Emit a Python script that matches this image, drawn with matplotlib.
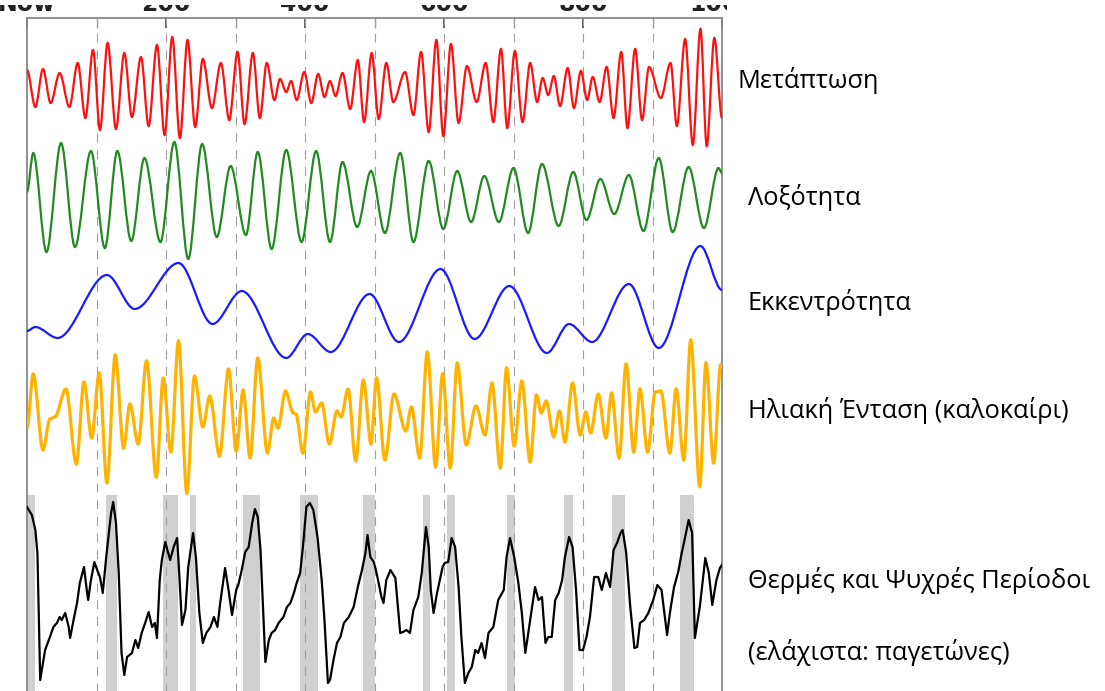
import numpy as np
import matplotlib
matplotlib.use("Agg")
import matplotlib.pyplot as plt
from matplotlib.path import Path
from matplotlib.patches import PathPatch, Rectangle

# ----------------------------
# Data (time in kyr ago, values in relative units)
# ----------------------------
# precession: turning points
prec_t = [0, 12, 23, 34, 47, 61, 73, 84, 95, 105, 116, 128, 140, 151, 164, 175,
          187, 198, 209, 220, 231, 242, 253, 266, 279, 291, 303, 313, 325, 335,
          345, 356, 364, 373, 380, 388, 399, 409, 419, 428, 436, 444, 454, 465,
          476, 485, 496, 506, 517, 527, 544, 556, 567, 578, 589, 599, 610, 621,
          633, 647, 660, 671, 682, 691, 702, 713, 724, 734, 742, 750, 758, 767,
          778, 787, 797, 806, 814, 824, 834, 844, 855, 864, 875, 885, 895, 912,
          926, 935, 947, 958, 969, 978, 989, 1000]
prec_v = [17, -20, 18, -16, 14, -20, 24, -31, 37, -43, 44, -42, 34, -30, 30, -39,
          42, -48, 50, -51, 47, -40, 28, -21, 24, -33, 35, -37, 34, -31,
          24, -13, 8, -5, 6, -13, 15, -16, 13, -10, 6, -9, 14, -22,
          27, -35, 34, -32, 24, -15, 15, -28, 35, -45, 47, -49, 43, -36,
          21, -15, 24, -35, 38, -41, 36, -35, 24, -15, 9, -8, 11, -19,
          19, -21, 16, -13, 10, -15, 20, -31, 35, -41, 38, -33, 20, -11,
          24, -39, 48, -58, 58, -59, 49, -31]

# obliquity
obl_t = [0, 9, 28, 49, 69, 92, 112, 130, 150, 169, 192, 212, 232, 252, 273, 293,
         315, 332, 352, 373, 395, 416, 436, 454, 475, 495, 515, 537, 556, 578,
         599, 619, 639, 658, 679, 700, 721, 741, 765, 786, 805, 825, 845, 866,
         887, 909, 929, 952, 974, 995, 1000]
obl_v = [8, 47, -52, 57, -47, 49, -48, 49, -41, 42, -42, 58, -59, 56, -37, 34,
         -35, 48, -49, 50, -42, 49, -42, 38, -27, 29, -33, 47, -42, 39,
         -29, 29, -22, 24, -22, 32, -33, 36, -26, 28, -20, 21, -14, 25,
         -31, 42, -32, 33, -28, 32, 27]

# eccentricity
ecc_t = [0, 12, 44, 115, 155, 218, 267, 309, 373, 404, 437, 493, 535, 595, 644,
         694, 748, 780, 813, 866, 909, 969, 1000]
ecc_v = [-31, -27, -38, 25, -9, 37, -24, 9, -58, -34, -52, 6, -42, 31, -39,
         14, -53, -24, -42, 16, -48, 54, 10]

# summer insolation
ins_t = [0, 9, 23, 33, 40, 56, 71, 82, 93, 104, 115, 127, 139, 148, 160, 172,
         186, 196, 207, 218, 230, 241, 253, 263, 277, 290, 301, 311, 321, 332,
         346, 355, 361, 372, 383, 387, 397, 408, 415, 424, 435, 446, 452, 462,
         473, 484, 495, 503, 515, 528, 545, 553, 565, 576, 588, 598, 609, 619,
         632, 646, 659, 669, 681, 690, 701, 712, 724, 733, 740, 747, 758, 766,
         774, 785, 796, 804, 811, 822, 833, 841, 852, 862, 873, 882, 893, 904,
         912, 925, 934, 945, 955, 968, 977, 988, 998, 1000]
ins_v = [-13, 41, -35, -4, -2, 26, -49, 33, -23, 42, -68, 60, -33, 11, -29, 54,
         -62, 37, -37, 74, -78, 39, -12, 19, -41, 46, -36, 25, -43, 57,
         -38, -3, -13, 24, 2, 1, -38, 23, 3, 12, -29, 4, -2, 26,
         -46, 35, -29, 37, -45, 21, -16, 8, -43, 63, -52, 41, -53, 52,
         -30, 9, -20, 32, -53, 47, -31, 34, -47, 20, 2, 14, -22, 4,
         -27, 32, -20, 3, -18, 21, -23, 22, -43, 51, -37, 26, -37, 23,
         24, -38, 26, -45, 75, -71, 52, -48, 50, 48]

# temperature record (warm and cold periods)
temp_t = [0, 7, 12, 15, 19, 26, 33, 38, 43, 47, 50, 55, 60, 62, 67, 72, 76, 82,
          86, 88, 92, 97, 101, 105, 109, 114, 121, 124, 128, 132, 136, 140, 144,
          151, 156, 160, 165, 170, 175, 180, 184, 187, 191, 194, 199, 202, 206,
          211, 216, 219, 223, 228, 232, 239, 243, 248, 253, 258, 264, 269, 274,
          278, 285, 290, 295, 301, 304, 309, 314, 319, 324, 328, 332, 336, 339,
          343, 348, 352, 357, 362, 369, 374, 379, 384, 388, 393, 397, 402, 407,
          412, 418, 424, 428, 433, 436, 441, 446, 451, 456, 463, 470, 476, 482,
          487, 490, 494, 499, 503, 510, 513, 517, 523, 530, 537, 541, 546, 551,
          556, 563, 568, 574, 578, 581, 585, 590, 594, 598, 601, 606, 611, 616,
          621, 625, 630, 635, 640, 645, 649, 654, 659, 664, 671, 678, 686, 690,
          695, 701, 707, 712, 717, 724, 731, 736, 741, 746, 750, 755, 760, 765,
          770, 774, 780, 785, 790, 795, 800, 805, 810, 816, 822, 827, 833, 839,
          844, 849, 854, 857, 862, 868, 874, 878, 882, 888, 894, 901, 907, 913,
          921, 925, 931, 937, 942, 947, 952, 957, 961, 968, 976, 981, 986, 992,
          997, 1000]
temp_v = [83, 75, 60, 37, -90, -60, -47, -37, -33, -27, -30, -23, -37, -48, -30,
          -13, 7, 23, 0, -10, 10, 28, 20, 13, -3, 33, 77, 88, 67, 17, -63, -85,
          -67, -63, -50, -58, -43, -33, -22, -37, -33, -48, 10, 30, 48, 40, 30,
          43, 52, 17, -35, -20, 23, 57, 33, -23, -53, -43, -37, -27, -37,
          -13, 22, 0, -25, 0, 5, 20, 38, 43, 67, 81, 73, 40, -7,
          -72, -50, -43, -40, -33, -27, -17, -13, -3, 7, 17, 43, 83, 87,
          80, 53, 10, -30, -93, -90, -70, -53, -47, -33, -27, -17, 3, 20,
          37, 55, 33, 28, 17, -7, -13, 10, 20, 12, -43, -42, -40, -43,
          -20, -7, 17, 63, 43, 0, -23, -3, 10, 23, 27, 28, 52, 43,
          3, -47, -93, -83, -77, -60, -63, -53, -68, -43, -37, -10, 0, 33,
          52, 33, 7, -23, -63, -30, 3, -10, -7, -53, -47, -47, -10, -3,
          10, 33, 53, 43, 0, -60, -60, -47, -27, 13, 13, 0, 17, 3,
          40, 47, 57, 60, 38, -17, -58, -57, -33, -30, -23, -10, 5, 0,
          -45, -23, 3, 18, 37, 53, 70, 57, -48, -17, 32, 17, -15, 10,
          22, 25]

# warm periods (grey bands), start/end in kyr ago
warm_start = [0, 114, 196, 235, 311, 393, 484, 570, 605, 690, 773, 842, 940]
warm_end = [12, 130, 217, 243, 335, 419, 500, 580, 616, 702, 786, 861, 959]

tick_pos = [0, 200, 400, 600, 800, 1000]
tick_labels = ["Now", "200", "400", "600", "800", "1000"]

labels = ["Μετάπτωση", "Λοξότητα", "Εκκεντρότητα", "Ηλιακή Ένταση (καλοκαίρι)",
          "Θερμές και Ψυχρές Περίοδοι", "(ελάχιστα: παγετώνες)"]


# smooth curve through turning points (horizontal tangent at each point)
def smooth_path(t, v, offset):
    verts = [(t[0], v[0] + offset)]
    codes = [Path.MOVETO]
    for i in range(len(t) - 1):
        d = (t[i + 1] - t[i]) / 3
        verts += [(t[i] + d, v[i] + offset),
                  (t[i + 1] - d, v[i + 1] + offset),
                  (t[i + 1], v[i + 1] + offset)]
        codes += [Path.CURVE4] * 3
    return Path(verts, codes)


fig = plt.figure(figsize=(11.05, 6.91), dpi=100)
ax = fig.add_axes([27 / 1105, -9 / 691, 695 / 1105, 682 / 691])
ax.set_xlim(0, 1000)
ax.set_ylim(0, 682)

# grey warm-period bands
for a, b in zip(warm_start, warm_end):
    ax.fill_between([a, b], -10, 205, color="#d0d0d0", lw=0, zorder=1)

# dashed guides every 100 kyr
for xv in range(100, 1000, 100):
    ax.axvline(xv, color="#a0a0a0", lw=0.8, linestyle=(0, (8, 7)), zorder=2)

ax.add_patch(PathPatch(smooth_path(prec_t, prec_v, 613), fill=False,
                       edgecolor="#ff1010", lw=1.6, zorder=3))
ax.add_patch(PathPatch(smooth_path(obl_t, obl_v, 500), fill=False,
                       edgecolor="#218a21", lw=1.6, zorder=3))
ax.add_patch(PathPatch(smooth_path(ecc_t, ecc_v, 400), fill=False,
                       edgecolor="#1a1aff", lw=1.6, zorder=3))
ax.add_patch(PathPatch(smooth_path(ins_t, ins_v, 285), fill=False,
                       edgecolor="#ffb300", lw=2.3, zorder=3))
ax.plot(temp_t, np.array(temp_v) + 110, color="black", lw=1.6, zorder=4)

# axes styling
for side in ["left", "top", "right"]:
    ax.spines[side].set_color("#888888")
    ax.spines[side].set_linewidth(1.3)
ax.spines["bottom"].set_visible(False)
ax.set_yticks([])
ax.xaxis.tick_top()
ax.set_xticks(tick_pos)
ax.set_xticklabels(tick_labels, fontsize=17, fontweight="bold", color="#222222")
ax.set_xticks(range(100, 1000, 200), minor=True)
ax.tick_params(axis="x", which="major", direction="in", length=7, width=1.2,
               color="#444444", pad=1.5)
ax.tick_params(axis="x", which="minor", direction="in", length=7, width=1,
               color="#999999")

# the picture only shows the lower edge of the tick labels
fig.patches.append(Rectangle((0, 1 - 5 / 691), 1, 5 / 691, transform=fig.transFigure,
                             facecolor="white", edgecolor="none", zorder=10))
fig.patches.append(Rectangle((727 / 1105, 1 - 17 / 691), 1, 17 / 691,
                             transform=fig.transFigure, facecolor="white",
                             edgecolor="none", zorder=10))

# right-hand labels
label_x = [737, 748, 748, 748, 748, 748]
label_y = [80, 197, 302, 410, 580, 652]
for s, lx, ly in zip(labels, label_x, label_y):
    fig.text(lx / 1105, 1 - ly / 691, s, fontsize=18.3, family="Open Sans",
             va="center", ha="left", color="black")

fig.savefig("out.png", dpi=100)
